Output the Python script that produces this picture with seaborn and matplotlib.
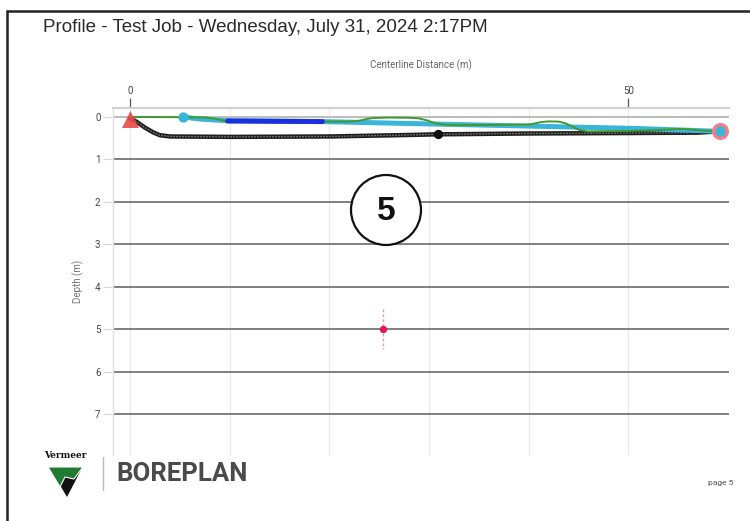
import matplotlib.pyplot as plt
import seaborn as sns
from matplotlib.lines import Line2D
from matplotlib.patches import Ellipse, Polygon

sns.set_theme(style="white")
plt.rcParams['font.family'] = ['Roboto', 'DejaVu Sans']

# ground surface (green)
ground_x = [0, 7.5, 8.5, 9.3, 9.8, 15, 20, 22, 23, 23.7, 24.5, 26, 28, 29, 29.8, 30.5, 31.3, 32, 36, 40, 40.7,
            41.3, 42, 43, 43.7, 44.3, 45, 45.9, 50, 53, 54.5, 55.5, 56.3, 57.5, 59.2]
ground_d = [0, 0.01, 0.04, 0.08, 0.1, 0.1, 0.11, 0.11, 0.09, 0.05, 0.025, 0.015, 0.02, 0.035, 0.08, 0.14, 0.18,
            0.19, 0.19, 0.18, 0.15, 0.12, 0.105, 0.11, 0.15, 0.22, 0.3, 0.34, 0.33, 0.31, 0.29, 0.28, 0.3, 0.32, 0.34]
# planned path (cyan)
plan_x = [5.3, 7, 9.8, 19.3, 27, 37, 50.5, 59.2]
plan_d = [0, 0.05, 0.09, 0.11, 0.15, 0.2, 0.27, 0.34]
# highlighted segment (blue)
seg_x = [9.8, 19.3]
seg_d = [0.095, 0.11]
# bore path (black)
bore_x = [0, 0.7, 1.5, 2.3, 3, 4, 10, 20, 27, 30.9, 40, 50, 57, 59.2]
bore_d = [0.03, 0.12, 0.25, 0.36, 0.43, 0.46, 0.47, 0.46, 0.43, 0.41, 0.39, 0.38, 0.37, 0.34]
# points
entry_x, entry_d = [0], [0.04]
exit_x, exit_d = [59.2], [0.34]
start_x, start_d = [5.3], [0]
mark_x, mark_d = [30.9], [0.41]
probe_x, probe_d, probe_err = [25.4], [5.0], [0.47]

x_major = [0, 50]
x_minor = [10, 20, 30, 40]
y_ticks = [0, 1, 2, 3, 4, 5, 6, 7]

W, H = 750, 521
def fx(px):
    return px / W
def fy(py):
    return 1 - py / H

fig = plt.figure(figsize=(7.5, 5.21), dpi=100)
ax = fig.add_axes([fx(113), fy(455), (729 - 113) / W, (455 - 108) / H])

# lines
sns.lineplot(x=bore_x, y=bore_d, ax=ax, sort=False, estimator=None, color='#1e1e1e', lw=3.2, zorder=3)
sns.lineplot(x=bore_x, y=bore_d, ax=ax, sort=False, estimator=None, color='#8a8a8a', lw=0.9,
             linestyle=(0, (1.2, 1.2)), zorder=3.1)
sns.lineplot(x=plan_x, y=plan_d, ax=ax, sort=False, estimator=None, color='#3ab4d8', lw=3.6, zorder=4)
sns.lineplot(x=ground_x, y=ground_d, ax=ax, sort=False, estimator=None, color='#3f9a2e', lw=1.4, zorder=4.5)
sns.lineplot(x=seg_x, y=seg_d, ax=ax, sort=False, estimator=None, color='#1c2fe0', lw=3.6, zorder=5)

# markers
sns.scatterplot(x=mark_x, y=mark_d, ax=ax, color='#111111', s=45, linewidth=0, zorder=6)
sns.scatterplot(x=entry_x, y=entry_d, ax=ax, color='#e84a4a', marker='^', s=150, linewidth=0, alpha=0.9, zorder=6)
sns.scatterplot(x=exit_x, y=exit_d, ax=ax, color='#f08088', s=150, linewidth=0, zorder=6)
sns.scatterplot(x=exit_x, y=exit_d, ax=ax, color='#3ab4d8', s=55, linewidth=0, zorder=6.5)
sns.scatterplot(x=start_x, y=start_d, ax=ax, color='#3ab4d8', s=55, linewidth=0, zorder=6.5)

eb = ax.errorbar(probe_x, probe_d, yerr=probe_err, fmt='none', ecolor='#f291a6', elinewidth=1.0, zorder=6)
eb[2][0].set_linestyle((0, (2, 1.5)))
sns.scatterplot(x=probe_x, y=probe_d, ax=ax, color='#e8174a', s=28, linewidth=0, zorder=7)

# axes
ax.set_xlim(-1.7, 60.1)
ax.set_ylim(7.96, -0.21)
ax.xaxis.tick_top()
ax.xaxis.set_label_position('top')
ax.set_xticks(x_major)
ax.set_xticks(x_minor, minor=True)
ax.set_yticks(y_ticks)
ax.tick_params(axis='x', which='major', length=7, width=0.9, color='#555555', pad=2,
               labelsize=7, labelcolor='#444444', top=True, bottom=False)
ax.tick_params(axis='x', which='minor', length=0, top=True, bottom=False)
ax.tick_params(axis='y', length=7, width=0.9, color='#d8d8d8', pad=2,
               labelsize=7, labelcolor='#444444', left=True)
ax.set_xlabel('Centerline Distance (m)', fontsize=7, color='#666666', labelpad=12)
ax.set_ylabel('Depth (m)', fontsize=7, color='#777777', labelpad=8)

ax.grid(axis='x', which='both', color='#e8e8e8', lw=0.8)
ax.grid(axis='y', which='major', color='#6a6a6a', lw=1.2)
ax.get_ygridlines()[0].set_color('#b0b0b0')
ax.set_axisbelow(True)
for side in ['right', 'bottom']:
    ax.spines[side].set_visible(False)
ax.spines['top'].set_color('#d0d0d0')
ax.spines['top'].set_linewidth(1.5)
ax.spines['left'].set_color('#e0e0e0')
ax.spines['left'].set_linewidth(1.0)

# page frame
fig.add_artist(Line2D([fx(7), fx(7)], [fy(11), 0], color='#222222', lw=1.8))
fig.add_artist(Line2D([fx(7), 1], [fy(11), fy(11)], color='#222222', lw=1.8))

fig.text(fx(43), fy(28), 'Profile - Test Job - Wednesday, July 31, 2024 2:17PM',
         fontsize=13.5, color='#2a2a2a', va='center', ha='left',
         family=['Liberation Sans', 'DejaVu Sans'])

# numbered callout
fig.add_artist(Ellipse((fx(386), fy(210)), 70 / W, 70 / H, transform=fig.transFigure,
                       facecolor='white', edgecolor='#111111', lw=1.6, zorder=10))
fig.text(fx(386), fy(211), '5', fontsize=24, fontweight='bold', color='#111111',
         ha='center', va='center', zorder=11, family=['Liberation Sans', 'DejaVu Sans'])

# footer
fig.text(fx(65), fy(455), 'Vermeer', fontsize=6.5, fontweight='bold', color='#111111',
         ha='center', va='center', family=['DejaVu Serif'])
fig.add_artist(Polygon([(fx(51), fy(470)), (fx(81), fy(470)), (fx(67), fy(497))],
                       closed=True, transform=fig.transFigure, facecolor='#111111', edgecolor='none'))
fig.add_artist(Polygon([(fx(48), fy(467)), (fx(83), fy(467)), (fx(74), fy(479)), (fx(65), fy(477)), (fx(60), fy(487))],
                       closed=True, transform=fig.transFigure, facecolor='#1f7a32', edgecolor='white', lw=0.8))
fig.add_artist(Line2D([fx(103), fx(103)], [fy(457), fy(490)], color='#bbbbbb', lw=1.0))
fig.text(fx(116), fy(474), 'BOREPLAN', fontsize=18.5, fontweight='bold', color='#4a4a4a',
         ha='left', va='center')
fig.text(fx(721), fy(483), 'page 5', fontsize=6, color='#555555', ha='center', va='center')

fig.savefig('out.png', dpi=100)
plt.close(fig)
